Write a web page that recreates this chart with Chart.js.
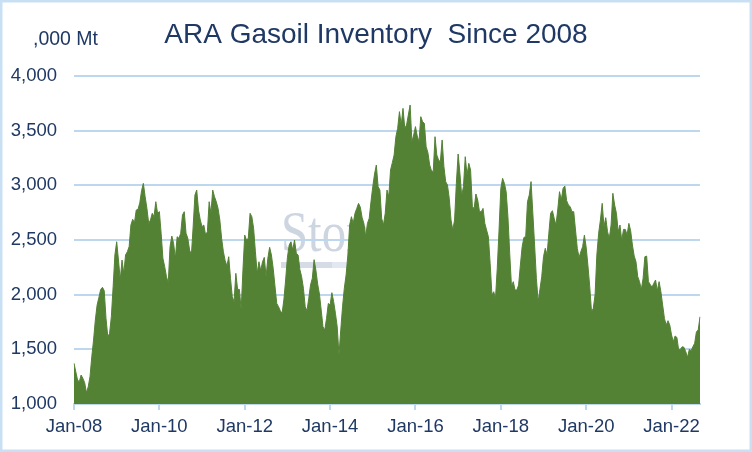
<!DOCTYPE html>
<html lang="en">
<head>
<meta charset="UTF-8">
<title>ARA Gasoil Inventory Since 2008</title>
<script src="https://cdn.jsdelivr.net/npm/chart.js@4"></script>
<style>
* { margin: 0; padding: 0; box-sizing: border-box; }
body { background: #fff; width: 752px; height: 452px; overflow: hidden; }
canvas { display: block; }
</style>
</head>
<body>
<canvas id="chart" width="752" height="452"></canvas>
<script>
// ARA gasoil stocks, ,000 Mt, two readings per month
const inv2008 = [1372,1295,1219,1204,1265,1234,1195,1103,1158,1250,1433,1585,1768,1905,1975,2048,2067,2036,1783,1616,1646,1798,2073,2363];
const inv2009 = [2484,2317,2134,2317,2195,2363,2393,2439,2637,2689,2658,2774,2780,2841,2951,3018,2896,2789,2652,2683,2744,2713,2850,2744];
const inv2010 = [2760,2560,2332,2256,2164,2109,2439,2536,2469,2332,2530,2515,2561,2728,2759,2561,2515,2408,2363,2622,2911,2957,2774,2683];
const inv2011 = [2622,2637,2545,2576,2850,2744,2957,2896,2850,2789,2683,2515,2393,2311,2262,2347,2149,1981,1936,2195,2048,2048,1859,2225];
const inv2012 = [2545,2500,2515,2744,2713,2606,2393,2195,2301,2220,2300,2341,2164,2332,2433,2363,2241,2079,1920,1890,1853,1829,1951,2134];
const inv2013 = [2341,2454,2484,2408,2500,2378,2363,2231,2164,2058,1890,1853,1966,2088,2149,2320,2225,2097,2006,1859,1707,1676,1783,1920];
const inv2014 = [1905,2018,1936,1829,1707,1448,1676,1890,2058,2180,2363,2637,2713,2652,2744,2789,2835,2800,2705,2652,2530,2652,2698,2851];
const inv2015 = [2988,3104,3186,2988,2957,2698,2637,2744,2957,2896,3140,3207,3277,3445,3521,3674,3552,3704,3521,3552,3643,3735,3399,3460];
const inv2016 = [3537,3451,3399,3628,3582,3567,3354,3299,3186,3134,3125,3445,3277,3232,3216,3415,3171,3033,3003,2881,2683,2591,2683,3018];
const inv2017 = [3287,3110,2902,2990,3262,3094,3201,3140,2805,2789,2921,2866,2759,2759,2789,2652,2591,2530,2286,1997,2027,1966,2241,2591];
const inv2018 = [2972,3064,3018,2942,2713,2378,2073,2119,2042,2042,2088,2271,2439,2524,2530,2850,2911,3034,2744,2454,2149,1936,2049,2164];
const inv2019 = [2347,2424,2363,2561,2744,2768,2698,2637,2774,2942,2866,2972,2994,2860,2820,2805,2759,2759,2591,2423,2341,2393,2439,2545];
const inv2020 = [2433,2262,2073,1844,1875,1997,2363,2561,2683,2835,2622,2704,2576,2515,2637,2927,2820,2744,2576,2637,2494,2597,2597,2545];
const inv2021 = [2652,2585,2454,2353,2302,2164,2119,2048,2149,2347,2353,2119,2094,2067,2103,2134,2036,2119,2027,1905,1783,1722,1762,1722];
const inv2022 = [1631,1570,1622,1609,1494,1500,1524,1518,1478,1427,1500,1487,1524,1555,1661,1677,1798];

const startYear = 2008;
const perYear = 24;
const xTickLabels = ['Jan-08','Jan-10','Jan-12','Jan-14','Jan-16','Jan-18','Jan-20','Jan-22'];
const yTicks = { min: 1000, max: 4000, step: 500 };

const values = [].concat(inv2008, inv2009, inv2010, inv2011, inv2012, inv2013, inv2014,
  inv2015, inv2016, inv2017, inv2018, inv2019, inv2020, inv2021, inv2022);

const months = ['Jan','Feb','Mar','Apr','May','Jun','Jul','Aug','Sep','Oct','Nov','Dec'];
const labels = values.map((v, i) => {
  const yr = startYear + Math.floor(i / perYear);
  const m = Math.floor((i % perYear) / 2);
  return months[m] + '-' + String(yr).slice(2) + (i % 2 ? ' (2)' : ' (1)');
});

const navy = '#1F3864';
const gridBlue = '#BDD7EE';
const font = '"Liberation Sans", Arial, sans-serif';

// background, logo, title, unit label and frame
const decor = {
  id: 'decor',
  beforeDraw(chart) {
    const ctx = chart.ctx;
    ctx.save();
    ctx.fillStyle = '#fff';
    ctx.fillRect(0, 0, chart.width, chart.height);
    // faint logo behind the area
    ctx.translate(281, 251);
    ctx.scale(0.84, 1);
    ctx.font = '58px "Liberation Serif", "Times New Roman", serif';
    ctx.fillStyle = 'rgba(196,206,218,0.85)';
    ctx.textBaseline = 'alphabetic';
    ctx.fillText('StoneX', 0, 0);
    ctx.restore();
    ctx.save();
    ctx.fillStyle = 'rgba(208,216,226,0.9)';
    ctx.fillRect(281, 262, 51, 6);
    ctx.fillStyle = 'rgba(222,230,240,0.9)';
    ctx.fillRect(332, 262, 20, 6);
    ctx.restore();
  },
  afterDraw(chart) {
    const ctx = chart.ctx;
    ctx.save();
    ctx.fillStyle = navy;
    ctx.textBaseline = 'alphabetic';
    ctx.font = '28px ' + font;
    ctx.textAlign = 'center';
    ctx.fillText('ARA Gasoil Inventory  Since 2008', 376, 43);
    ctx.font = '19.5px ' + font;
    ctx.textAlign = 'left';
    ctx.fillText(',000 Mt', 33, 45);
    ctx.strokeStyle = '#C8DFF4';
    ctx.lineWidth = 2.5;
    ctx.strokeRect(1.25, 1.25, chart.width - 2.5, chart.height - 2.5);
    ctx.restore();
  }
};

new Chart(document.getElementById('chart'), {
  type: 'line',
  data: {
    labels: labels,
    datasets: [{
      data: values,
      fill: 'start',
      backgroundColor: '#548235',
      borderColor: '#548235',
      borderWidth: 1,
      pointRadius: 0,
      tension: 0
    }]
  },
  options: {
    responsive: false,
    animation: false,
    events: [],
    layout: { padding: { top: 76, right: 52, bottom: 0, left: 0 } },
    plugins: { legend: { display: false }, tooltip: { enabled: false }, title: { display: false } },
    scales: {
      x: {
        type: 'category',
        afterFit(scale) { scale.height = 48; },
        border: { display: true, color: gridBlue, width: 2 },
        grid: { drawOnChartArea: false, drawTicks: true, tickLength: 6, color: gridBlue, lineWidth: 2 },
        ticks: {
          autoSkip: false,
          maxRotation: 0,
          padding: 6,
          color: navy,
          font: { family: font, size: 18.5 },
          callback: (v, i) => (i % (perYear * 2) === 0 ? xTickLabels[i / (perYear * 2)] : null)
        }
      },
      y: {
        min: yTicks.min,
        max: yTicks.max,
        afterFit(scale) { scale.width = 74; },
        border: { display: false },
        grid: { color: gridBlue, lineWidth: 2, drawTicks: false },
        ticks: {
          stepSize: yTicks.step,
          padding: 17,
          color: navy,
          font: { family: font, size: 18.5 },
          callback: v => v.toLocaleString('en-US')
        }
      }
    }
  },
  plugins: [decor]
});
</script>
</body>
</html>
